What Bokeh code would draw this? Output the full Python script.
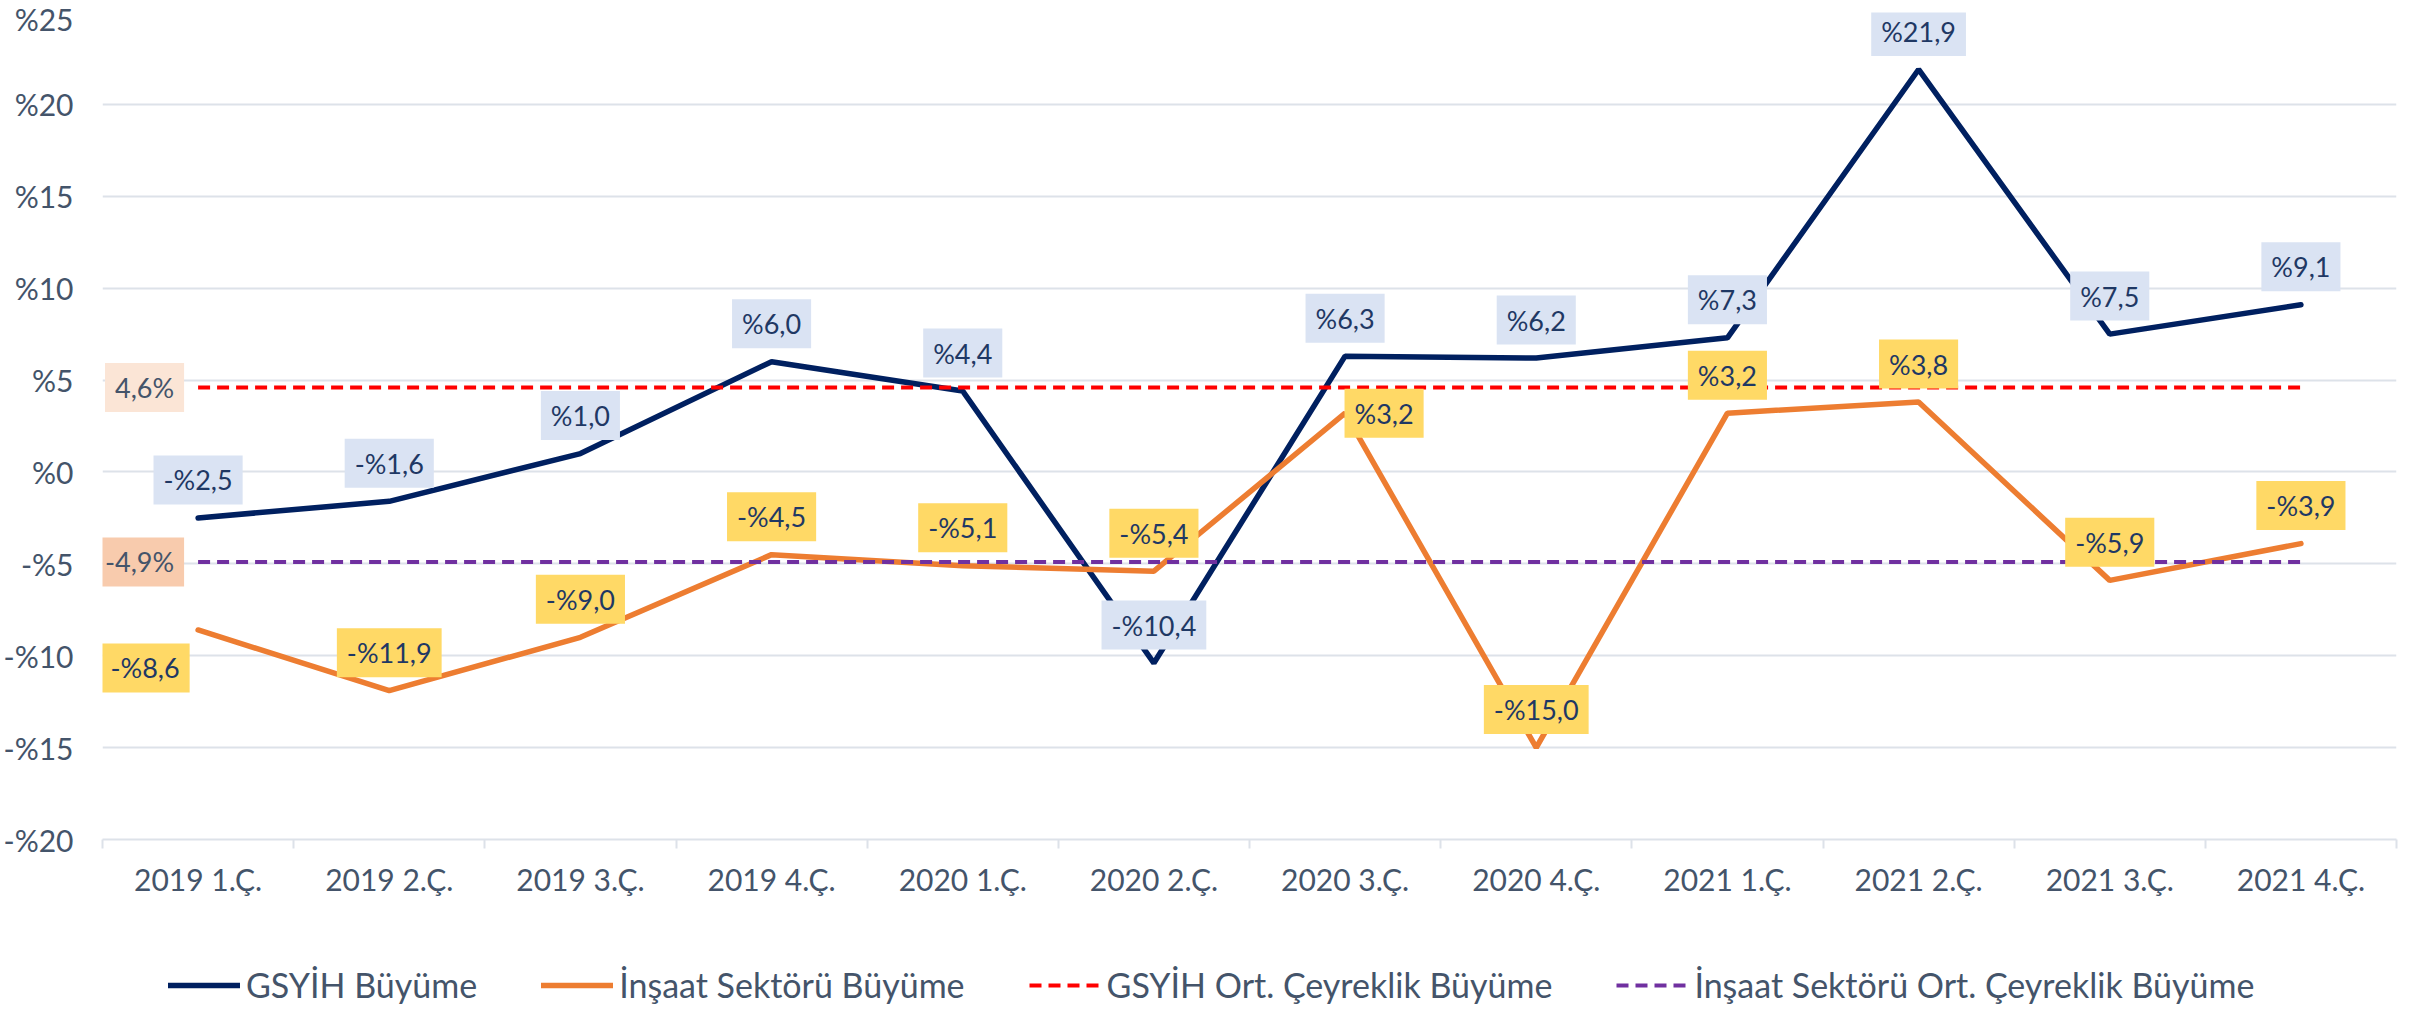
from bokeh.plotting import figure
from bokeh.layouts import column
from bokeh.models import FixedTicker, ColumnDataSource, Legend, LegendItem
from bokeh.core.properties import value
from bokeh.embed import file_html
from bokeh.resources import INLINE

# ---------------- data ----------------
quarters = ["2019 1.Ç.", "2019 2.Ç.", "2019 3.Ç.", "2019 4.Ç.",
            "2020 1.Ç.", "2020 2.Ç.", "2020 3.Ç.", "2020 4.Ç.",
            "2021 1.Ç.", "2021 2.Ç.", "2021 3.Ç.", "2021 4.Ç."]
gdp_growth = [-2.5, -1.6, 1.0, 6.0, 4.4, -10.4, 6.3, 6.2, 7.3, 21.9, 7.5, 9.1]
construction_growth = [-8.6, -11.9, -9.0, -4.5, -5.1, -5.4, 3.2, -15.0, 3.2, 3.8, -5.9, -3.9]
gdp_avg = 4.6
construction_avg = -4.9
y_ticks = [-20, -15, -10, -5, 0, 5, 10, 15, 20, 25]
y_tick_labels = ["-%20", "-%15", "-%10", "-%5", "%0", "%5", "%10", "%15", "%20", "%25"]
series_names = ["GSYİH Büyüme", "İnşaat Sektörü Büyüme",
                "GSYİH Ort. Çeyreklik Büyüme", "İnşaat Sektörü Ort. Çeyreklik Büyüme"]

# label placement (screen px offsets), style only
gdp_label_dx = [0] * 12
gdp_label_dy = [-38] * 12
con_label_dx = [-53, 0, 0, 0, 0, 0, 39, 0, 0, 0, 0, 0]
con_label_dy = [38, -38, -38, -38, -38, -38, 0, -38, -38, -38, -38, -38]

FONT = "Lato"
NAVY = "#002060"
ORANGE = "#ED7D31"
RED = "#FF0000"
PURPLE = "#7030A0"
GRID = "#DDE2E9"
AXIS_TEXT = "#44546A"
LABEL_TEXT = "#1F3864"
W = 2414


def fmt(v):
    s = f"{abs(v):.1f}".replace(".", ",")
    return ("-%" if v < 0 else "%") + s


def fmt_avg(v):
    return f"{v:.1f}".replace(".", ",") + "%"


xs = list(range(len(quarters)))

p = figure(width=W, height=909, x_range=(-0.5, len(quarters) - 0.5), y_range=(y_ticks[0], y_ticks[-1]),
           output_backend="svg", toolbar_location=None,
           min_border_left=94, min_border_right=18, min_border_top=12, min_border_bottom=70)
p.outline_line_color = None

# axes
p.xaxis.ticker = FixedTicker(ticks=xs, minor_ticks=[i - 0.5 for i in range(len(quarters) + 1)])
p.xaxis.major_label_overrides = {i: q for i, q in enumerate(quarters)}
p.xaxis.major_tick_line_color = None
p.xaxis.major_tick_out = 0
p.xaxis.major_tick_in = 0
p.xaxis.minor_tick_line_color = GRID
p.xaxis.minor_tick_line_width = 2
p.xaxis.minor_tick_out = 9
p.xaxis.minor_tick_in = 0
p.xaxis.axis_line_color = GRID
p.xaxis.axis_line_width = 2
p.xaxis.major_label_standoff = 12
p.xaxis.major_label_text_font = FONT
p.xaxis.major_label_text_font_size = "30px"
p.xaxis.major_label_text_color = AXIS_TEXT

p.yaxis.ticker = FixedTicker(ticks=y_ticks)
p.yaxis.major_label_overrides = {t: l for t, l in zip(y_ticks, y_tick_labels)}
p.yaxis.axis_line_color = None
p.yaxis.major_tick_line_color = None
p.yaxis.minor_tick_line_color = None
p.yaxis.major_tick_out = 0
p.yaxis.major_label_standoff = 29
p.yaxis.major_label_text_font = FONT
p.yaxis.major_label_text_font_size = "30px"
p.yaxis.major_label_text_color = AXIS_TEXT

p.xgrid.visible = False
p.ygrid.ticker = FixedTicker(ticks=y_ticks)
p.ygrid.grid_line_color = GRID
p.ygrid.grid_line_width = 2

# series
line_styles = [dict(line_color=NAVY, line_width=5.5, line_cap="round"),
               dict(line_color=ORANGE, line_width=5.5, line_cap="round"),
               dict(line_color=RED, line_width=4, line_dash="12 7"),
               dict(line_color=PURPLE, line_width=4, line_dash="12 7")]
p.line(xs, gdp_growth, **line_styles[0])
p.line(xs, construction_growth, **line_styles[1])
p.line(xs, [gdp_avg] * len(xs), **line_styles[2])
p.line(xs, [construction_avg] * len(xs), **line_styles[3])

# data labels
gdp_src = ColumnDataSource(dict(x=xs, y=gdp_growth, text=[fmt(v) for v in gdp_growth],
                                dx=gdp_label_dx, dy=gdp_label_dy))
con_src = ColumnDataSource(dict(x=xs, y=construction_growth, text=[fmt(v) for v in construction_growth],
                                dx=con_label_dx, dy=con_label_dy))
for src, fill in ((gdp_src, "#DAE3F3"), (con_src, "#FFD966")):
    p.text(x="x", y="y", text="text", source=src, x_offset="dx", y_offset="dy",
           text_font=value(FONT), text_font_size="27px", text_color=LABEL_TEXT,
           text_align="center", text_baseline="middle",
           background_fill_color=fill, padding=(10, 8))

# average labels at left
avg_src1 = ColumnDataSource(dict(x=[0], y=[gdp_avg], text=[fmt_avg(gdp_avg)]))
avg_src2 = ColumnDataSource(dict(x=[0], y=[construction_avg], text=[fmt_avg(construction_avg)]))
for src, fill in ((avg_src1, "#FBE5D6"), (avg_src2, "#F8CBAD")):
    p.text(x="x", y="y", text="text", source=src, x_offset=-14, y_offset=0,
           text_font=value(FONT), text_font_size="27px", text_color=AXIS_TEXT,
           text_align="right", text_baseline="middle",
           background_fill_color=fill, padding=(10, 8))

# legend in its own strip below the chart (sample lines sit outside the visible range)
pl = figure(width=W, height=96, x_range=(0, 1), y_range=(0, 1), output_backend="svg",
            toolbar_location=None, min_border=0, x_axis_type=None, y_axis_type=None)
pl.outline_line_color = None
pl.grid.visible = False
legend_renderers = [pl.line([-10, -9], [-10, -9], **st) for st in line_styles]
legend = Legend(items=[LegendItem(label=n, renderers=[r]) for n, r in zip(series_names, legend_renderers)],
                location=(66, 0), orientation="horizontal",
                label_text_font=FONT, label_text_font_size="34px", label_text_color=AXIS_TEXT,
                glyph_width=72, glyph_height=20, label_standoff=6, spacing=64,
                padding=0, margin=0, background_fill_alpha=0, border_line_color=None)
pl.add_layout(legend)

layout = column(p, pl, spacing=0)
open("out.html", "w").write(file_html(layout, INLINE))
